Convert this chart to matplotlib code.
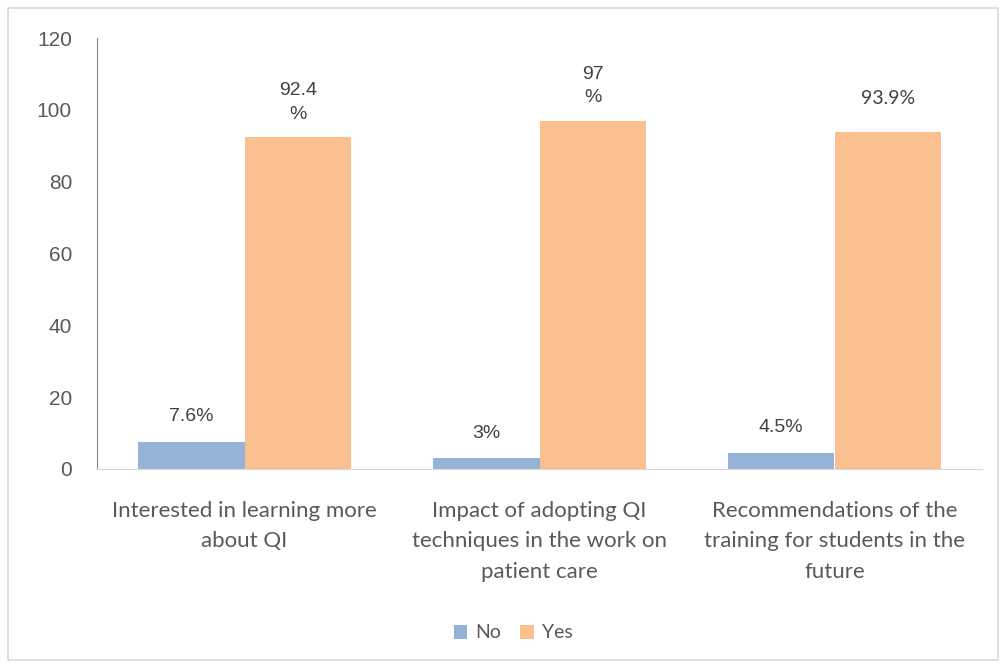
import numpy as np
import matplotlib.pyplot as plt
from matplotlib.patches import Rectangle

# data
categories = ['Interested in learning more\nabout QI',
              'Impact of adopting QI\ntechniques in the work on\npatient care',
              'Recommendations of the\ntraining for students in the\nfuture']
no_vals = [7.6, 3, 4.5]
yes_vals = [92.4, 97, 93.9]
no_labels = ['7.6%', '3%', '4.5%']
yes_labels = ['92.4\n%', '97\n%', '93.9%']

c_no = '#95B3D7'
c_yes = '#FAC090'
txt = '#404040'

fig = plt.figure(figsize=(10.02, 6.68), dpi=100)
ax = fig.add_axes([97/1002, 1 - 469/668, 885/1002, 431/668])

x = np.arange(len(categories))
w = 0.3627
ax.bar(x - w/2, no_vals, w, color=c_no, label='No')
ax.bar(x + w/2, yes_vals, w, color=c_yes, label='Yes')

ax.set_xlim(-0.5, 2.5)
ax.set_ylim(0, 120)
ax.set_yticks(range(0, 121, 20))
ax.tick_params(axis='y', length=0, pad=18, labelsize=15, labelcolor='#595959')
ax.tick_params(axis='x', length=0, pad=23)
for t in ax.get_yticklabels():
    t.set_family('Liberation Sans')
ax.set_xticks(x)
ax.set_xticklabels(categories, fontsize=16, color='#595959', family='Lato',
                   linespacing=1.65)

for s in ['top', 'right']:
    ax.spines[s].set_visible(False)
ax.spines['left'].set_color('#868686')
ax.spines['bottom'].set_color('#D9D9D9')

for i in range(len(categories)):
    ax.annotate(no_labels[i], (x[i] - w/2, no_vals[i]), xytext=(0, 18),
                textcoords='offset points', ha='center', va='center',
                fontsize=14, color=txt, family='Liberation Sans')
    fam = 'Lato' if '\n' not in yes_labels[i] else 'Liberation Sans'
    off = 25 if '\n' in yes_labels[i] else 24
    ax.annotate(yes_labels[i], (x[i] + w/2, yes_vals[i]), xytext=(0, off),
                textcoords='offset points', ha='center', va='center',
                fontsize=14, color=txt, family=fam, linespacing=1.5)

leg = fig.legend(loc='center', bbox_to_anchor=(513/1002, 1 - 633/668), ncol=2,
                 frameon=False, handlelength=0.7, handleheight=0.7,
                 handletextpad=0.4, columnspacing=1.0, prop={'family': 'Lato', 'size': 14})
for t in leg.get_texts():
    t.set_color('#595959')

fig.patches.append(Rectangle((8/1002, 1 - 660/668), 990/1002, 652/668,
                             transform=fig.transFigure, fill=False,
                             edgecolor='#D9D9D9', linewidth=1.2))

fig.savefig('out.png', dpi=100)
